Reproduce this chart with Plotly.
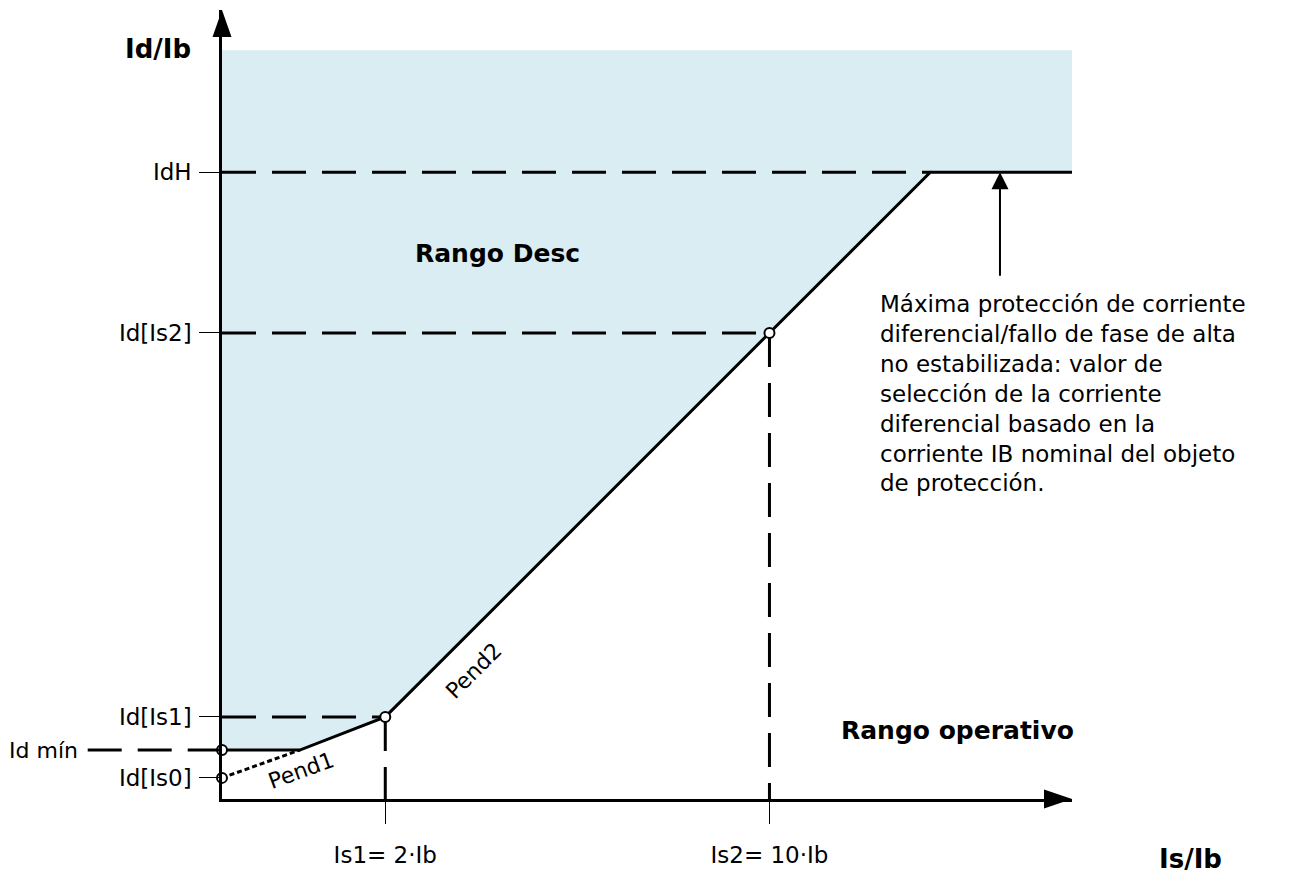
import plotly.graph_objects as go

# schematic characteristic (drawing units, not to scale)
is1 = 3.40          # Is1 = 2·Ib
is2 = 11.40         # Is2 = 10·Ib
knee_x = 1.62       # Pend1 meets Id mín
idh_x = 14.75       # Pend2 meets IdH
x_end = 17.7
y_top = 16.44
shade_top = 15.6

id_is0 = 0.44
id_min = 1.02
id_is1 = 1.71
id_is2 = 9.71
id_h = 13.06

y_ticks = [id_h, id_is2, id_is1, id_is0]
y_labels = ["IdH", "Id[Is2]", "Id[Is1]", "Id[Is0]"]
x_ticks = [is1, is2]
x_labels = ["Is1= 2·Ib", "Is2= 10·Ib"]

char_x = [0, knee_x, is1, is2, idh_x, x_end]
char_y = [id_min, id_min, id_is1, id_is2, id_h, id_h]

note = ("Máxima protección de corriente<br>"
        "diferencial/fallo de fase de alta<br>"
        "no estabilizada: valor de<br>"
        "selección de la corriente<br>"
        "diferencial basado en la<br>"
        "corriente IB nominal del objeto<br>"
        "de protección.")

FONT = "DejaVu Sans"
DASH = "34px,16px"

fig = go.Figure()

# trip area
fig.add_trace(go.Scatter(
    x=[0] + char_x + [x_end, 0],
    y=[shade_top] + char_y + [shade_top, shade_top],
    fill="toself", fillcolor="#daedf3", mode="lines",
    line=dict(width=0), hoverinfo="skip"))

# dashed helper lines
fig.add_trace(go.Scatter(
    x=[0, idh_x, None, 0, is2, None, 0, is1, None, is2, is2, None, is1, is1],
    y=[id_h, id_h, None, id_is2, id_is2, None, id_is1, id_is1, None,
       id_is2, 0, None, id_is1, 0],
    mode="lines", line=dict(color="black", width=3, dash=DASH)))

# Pend1 extension down to Id[Is0]
fig.add_trace(go.Scatter(
    x=[0, knee_x], y=[id_is0, id_min], mode="lines",
    line=dict(color="black", width=3, dash="5px,3px")))

# characteristic
fig.add_trace(go.Scatter(
    x=char_x, y=char_y, mode="lines",
    line=dict(color="black", width=3)))

# setting points
fig.add_trace(go.Scatter(
    x=[0, 0, is1, is2], y=[id_min, id_is0, id_is1, id_is2],
    mode="markers", cliponaxis=False,
    marker=dict(size=10, color="white", line=dict(color="black", width=2))))

ann = []
ann.append(dict(xref="paper", yref="paper", x=-0.0753, y=0.951,
                xanchor="center", yanchor="middle",
                text="<b>Id/Ib</b>", showarrow=False, font=dict(size=26)))
ann.append(dict(xref="paper", yref="paper", x=1.139, y=-0.076,
                xanchor="center", yanchor="middle",
                text="<b>Is/Ib</b>", showarrow=False, font=dict(size=26)))
ann.append(dict(x=5.74, y=11.375, text="<b>Rango Desc</b>", showarrow=False,
                font=dict(size=25)))
ann.append(dict(x=15.31, y=1.42, text="<b>Rango operativo</b>", showarrow=False,
                font=dict(size=25)))
ann.append(dict(x=5.25, y=2.67, text="Pend2", textangle=-45, showarrow=False,
                font=dict(size=22)))
ann.append(dict(x=1.65, y=0.6, text="Pend1", textangle=-20, showarrow=False,
                font=dict(size=22)))
ann.append(dict(x=13.65, y=10.62, text=note, align="left", xanchor="left",
                yanchor="top", showarrow=False, font=dict(size=23)))
ann.append(dict(xref="paper", x=-0.167, y=id_min, text="Id mín",
                xanchor="right", yanchor="middle", showarrow=False,
                font=dict(size=22)))
ann.append(dict(x=16.2, y=id_h, ax=0, ay=105, text="", showarrow=True,
                arrowhead=2, arrowsize=1.7, arrowwidth=2, arrowcolor="black"))

shapes = [
    # Id mín leader
    dict(type="line", xref="paper", yref="y", x0=-0.158, x1=0,
         y0=id_min, y1=id_min, line=dict(color="black", width=3, dash=DASH)),
    # axis arrow heads
    dict(type="path", xref="paper", yref="paper", xsizemode="pixel",
         ysizemode="pixel", xanchor=0, yanchor=1,
         path="M0,0 L-9.5,-27 L9.5,-27 Z", fillcolor="black",
         line=dict(width=0)),
    dict(type="path", xref="paper", yref="paper", xsizemode="pixel",
         ysizemode="pixel", xanchor=1, yanchor=0,
         path="M0,0 L-28,9.5 L-28,-9.5 Z", fillcolor="black",
         line=dict(width=0)),
]

# page body adds an 8px margin, so the figure is 8px smaller each way
fig.update_layout(
    width=1287, height=867,
    margin=dict(l=214, r=223, t=2, b=76),
    plot_bgcolor="white", paper_bgcolor="white",
    showlegend=False,
    font=dict(family=FONT, size=22, color="black"),
    annotations=ann, shapes=shapes,
    xaxis=dict(range=[0, x_end], showgrid=False, zeroline=False,
               showline=True, linecolor="black", linewidth=2.5,
               tickvals=x_ticks, ticktext=x_labels, ticks="outside",
               ticklen=22, tickwidth=1, tickcolor="black",
               ticklabelstandoff=12, tickfont=dict(size=23)),
    yaxis=dict(range=[0, y_top], showgrid=False, zeroline=False,
               showline=True, linecolor="black", linewidth=2.5,
               tickvals=y_ticks, ticktext=y_labels, ticks="outside",
               ticklen=20, tickwidth=1, tickcolor="black",
               ticklabelstandoff=3, tickfont=dict(size=23)),
)

fig.write_html("out.html")
